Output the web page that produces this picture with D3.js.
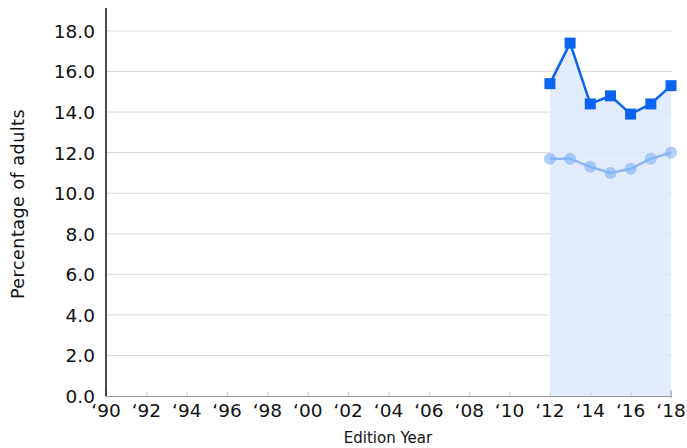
<!DOCTYPE html>
<html>
<head>
<meta charset="utf-8">
<script src="https://cdn.jsdelivr.net/npm/d3@7"></script>
<style>
  body { margin: 0; background: #fff; }
  text { font-family: "DejaVu Sans", sans-serif; }
</style>
</head>
<body>
<script>
// data
var years = [2012, 2013, 2014, 2015, 2016, 2017, 2018];
var mainValues = [15.4, 17.4, 14.4, 14.8, 13.9, 14.4, 15.3];
var compareValues = [11.7, 11.7, 11.3, 11.0, 11.2, 11.7, 12.0];
var xTicks = d3.range(1990, 2019, 2);
var yTicks = d3.range(0, 19, 2);

var width = 687, height = 448;
var margin = {left: 106, right: 16, top: 8, bottom: 52};

var svg = d3.select("body").append("svg")
    .attr("width", width)
    .attr("height", height);

var x = d3.scaleLinear().domain([1990, 2018]).range([margin.left, width - margin.right]);
var y = d3.scaleLinear().domain([0, 19.13]).range([height - margin.bottom, margin.top]);

var mainData = years.map(function(d, i) { return {year: d, v: mainValues[i]}; });
var compareData = years.map(function(d, i) { return {year: d, v: compareValues[i]}; });

// gridlines
svg.append("g")
  .selectAll("line")
  .data(yTicks.slice(1))
  .enter().append("line")
    .attr("x1", x(1990)).attr("x2", x(2018) + 1)
    .attr("y1", function(d) { return y(d); })
    .attr("y2", function(d) { return y(d); })
    .attr("stroke", "#d9d9d9")
    .attr("stroke-width", 1);

// shaded area under main series
svg.append("path")
  .datum(mainData)
  .attr("fill", "#dde9fb")
  .attr("fill-opacity", 0.85)
  .attr("d", d3.area()
    .x(function(d) { return x(d.year); })
    .y0(y(0))
    .y1(function(d) { return y(d.v); }));

// x axis
var xAxis = svg.append("g")
  .attr("transform", "translate(0," + y(0) + ")")
  .call(d3.axisTop(x).tickValues(xTicks).tickSize(4).tickFormat(""));
xAxis.select(".domain").attr("stroke", "#9a9a9a");
xAxis.selectAll(".tick line").attr("stroke", "#cfcfcf");

svg.append("g")
  .selectAll("text")
  .data(xTicks)
  .enter().append("text")
    .attr("x", function(d) { return x(d); })
    .attr("y", y(0) + 21)
    .attr("text-anchor", "middle")
    .attr("font-size", 18.5)
    .attr("fill", "#111")
    .text(function(d) { return "\u2018" + String(d).slice(2); });

// end ticks below
svg.append("g")
  .selectAll("line")
  .data([1990, 2018])
  .enter().append("line")
    .attr("x1", function(d) { return x(d); })
    .attr("x2", function(d) { return x(d); })
    .attr("y1", y(0) - 6)
    .attr("y2", y(0) + 2)
    .attr("stroke", "#9a9a9a");

// y axis
svg.append("line")
  .attr("x1", x(1990)).attr("x2", x(1990))
  .attr("y1", margin.top).attr("y2", y(0))
  .attr("stroke", "#111")
  .attr("stroke-width", 1.5);

svg.append("g")
  .selectAll("text")
  .data(yTicks)
  .enter().append("text")
    .attr("x", x(1990) - 11)
    .attr("y", function(d) { return y(d) + 7; })
    .attr("text-anchor", "end")
    .attr("font-size", 18.5)
    .attr("fill", "#111")
    .text(function(d) { return d.toFixed(1); });

svg.append("text")
  .attr("transform", "translate(24,204) rotate(-90)")
  .attr("text-anchor", "middle")
  .attr("font-size", 17.5)
  .attr("letter-spacing", 0.5)
  .attr("fill", "#111")
  .text("Percentage of adults");

svg.append("text")
  .attr("x", 388)
  .attr("y", 443)
  .attr("text-anchor", "middle")
  .attr("font-size", 15)
  .attr("fill", "#111")
  .text("Edition Year");

var line = d3.line()
  .x(function(d) { return x(d.year); })
  .y(function(d) { return y(d.v); });

// comparison series
svg.append("path")
  .datum(compareData)
  .attr("fill", "none")
  .attr("stroke", "#8db8f4")
  .attr("stroke-width", 2.5)
  .attr("d", line);

svg.append("g")
  .selectAll("circle")
  .data(compareData)
  .enter().append("circle")
    .attr("cx", function(d) { return x(d.year); })
    .attr("cy", function(d) { return y(d.v); })
    .attr("r", 6)
    .attr("fill", "#7fb0f5")
    .attr("fill-opacity", 0.6);

// main series
svg.append("path")
  .datum(mainData)
  .attr("fill", "none")
  .attr("stroke", "#0a64f0")
  .attr("stroke-width", 2.5)
  .attr("d", line);

svg.append("g")
  .selectAll("rect")
  .data(mainData)
  .enter().append("rect")
    .attr("x", function(d) { return x(d.year) - 5.5; })
    .attr("y", function(d) { return y(d.v) - 5.5; })
    .attr("width", 11)
    .attr("height", 11)
    .attr("fill", "#0a64f0");
</script>
</body>
</html>
